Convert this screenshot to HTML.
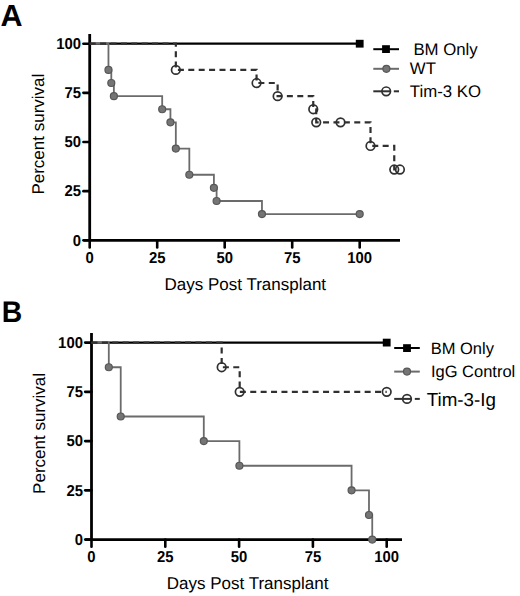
<!DOCTYPE html>
<html><head><meta charset="utf-8"><style>
html,body{margin:0;padding:0;background:#fff;width:520px;height:596px;overflow:hidden}
svg{display:block}
text{font-family:"Liberation Sans",sans-serif;fill:#000;text-rendering:geometricPrecision}
.tk{font-size:15.8px;font-weight:bold}
.lb{font-size:16.5px}
.ax{font-size:17px}
.la{font-size:16.8px}
.lt{font-size:18.8px}
.pn{font-size:30px;font-weight:bold}
</style></head><body>
<svg width="520" height="596" viewBox="0 0 520 596">
<rect width="520" height="596" fill="#fff"/>
<line x1="89.7" y1="34" x2="89.7" y2="240.3" stroke="#000" stroke-width="2.8"/>
<line x1="83.4" y1="240.3" x2="400" y2="240.3" stroke="#000" stroke-width="2.8"/>
<line x1="83.4" y1="240.3" x2="87.7" y2="240.3" stroke="#000" stroke-width="2.6" stroke-linecap="round"/>
<line x1="83.4" y1="191.15" x2="89.7" y2="191.15" stroke="#000" stroke-width="2.6" stroke-linecap="round"/>
<line x1="83.4" y1="142" x2="89.7" y2="142" stroke="#000" stroke-width="2.6" stroke-linecap="round"/>
<line x1="83.4" y1="92.85" x2="89.7" y2="92.85" stroke="#000" stroke-width="2.6" stroke-linecap="round"/>
<line x1="83.4" y1="43.7" x2="89.7" y2="43.7" stroke="#000" stroke-width="2.6" stroke-linecap="round"/>
<line x1="89.7" y1="240.3" x2="89.7" y2="247.5" stroke="#000" stroke-width="2.6" stroke-linecap="round"/>
<line x1="157.2" y1="240.3" x2="157.2" y2="247.5" stroke="#000" stroke-width="2.6" stroke-linecap="round"/>
<line x1="224.7" y1="240.3" x2="224.7" y2="247.5" stroke="#000" stroke-width="2.6" stroke-linecap="round"/>
<line x1="292.2" y1="240.3" x2="292.2" y2="247.5" stroke="#000" stroke-width="2.6" stroke-linecap="round"/>
<line x1="359.7" y1="240.3" x2="359.7" y2="247.5" stroke="#000" stroke-width="2.6" stroke-linecap="round"/>
<text transform="translate(81.1,245.5) scale(0.94,1)" class="tk" text-anchor="end">0</text>
<text transform="translate(81.1,196.35) scale(0.94,1)" class="tk" text-anchor="end">25</text>
<text transform="translate(81.1,147.2) scale(0.94,1)" class="tk" text-anchor="end">50</text>
<text transform="translate(81.1,98.05) scale(0.94,1)" class="tk" text-anchor="end">75</text>
<text transform="translate(81.1,48.9) scale(0.94,1)" class="tk" text-anchor="end">100</text>
<text transform="translate(89.7,262.9) scale(0.94,1)" class="tk" text-anchor="middle">0</text>
<text transform="translate(157.2,262.9) scale(0.94,1)" class="tk" text-anchor="middle">25</text>
<text transform="translate(224.7,262.9) scale(0.94,1)" class="tk" text-anchor="middle">50</text>
<text transform="translate(292.2,262.9) scale(0.94,1)" class="tk" text-anchor="middle">75</text>
<text transform="translate(359.7,262.9) scale(0.94,1)" class="tk" text-anchor="middle">100</text>
<line x1="89.7" y1="43.7" x2="359.7" y2="43.7" stroke="#000" stroke-width="2.2"/>
<path d="M89.7,43.7 H108.47 V69.91 H111.3 V83.02 H113.87 V96.13 H162.19 V109.23 H170.43 V122.34 H175.83 V148.55 H189.33 V174.77 H213.9 V187.87 H216.6 V200.98 H261.96 V214.09 H359.7" fill="none" stroke="#6b6b6b" stroke-width="1.8"/>
<path d="M89.7,43.7 H175.83 V69.91 H256.56 V83.02 H277.62 V96.13 H313.26 V109.23 H316.23 V122.34 H340.53 H370.5 V145.93 H394.26 V169.52 H399.93" fill="none" stroke="#303030" stroke-width="2.2" stroke-dasharray="6 4.4"/>
<circle cx="108.47" cy="69.91" r="3.5" fill="#757575" stroke="#575757" stroke-width="1.2"/>
<circle cx="111.3" cy="83.02" r="3.5" fill="#757575" stroke="#575757" stroke-width="1.2"/>
<circle cx="113.87" cy="96.13" r="3.5" fill="#757575" stroke="#575757" stroke-width="1.2"/>
<circle cx="162.19" cy="109.23" r="3.5" fill="#757575" stroke="#575757" stroke-width="1.2"/>
<circle cx="170.43" cy="122.34" r="3.5" fill="#757575" stroke="#575757" stroke-width="1.2"/>
<circle cx="175.83" cy="148.55" r="3.5" fill="#757575" stroke="#575757" stroke-width="1.2"/>
<circle cx="189.33" cy="174.77" r="3.5" fill="#757575" stroke="#575757" stroke-width="1.2"/>
<circle cx="213.9" cy="187.87" r="3.5" fill="#757575" stroke="#575757" stroke-width="1.2"/>
<circle cx="216.6" cy="200.98" r="3.5" fill="#757575" stroke="#575757" stroke-width="1.2"/>
<circle cx="261.96" cy="214.09" r="3.5" fill="#757575" stroke="#575757" stroke-width="1.2"/>
<circle cx="359.7" cy="214.09" r="3.5" fill="#757575" stroke="#575757" stroke-width="1.2"/>
<circle cx="175.83" cy="69.91" r="4.3" fill="none" stroke="#303030" stroke-width="1.7"/>
<circle cx="256.56" cy="83.02" r="4.3" fill="none" stroke="#303030" stroke-width="1.7"/>
<circle cx="277.62" cy="96.13" r="4.3" fill="none" stroke="#303030" stroke-width="1.7"/>
<circle cx="313.26" cy="109.23" r="4.3" fill="none" stroke="#303030" stroke-width="1.7"/>
<circle cx="316.23" cy="122.34" r="4.3" fill="none" stroke="#303030" stroke-width="1.7"/>
<circle cx="340.53" cy="122.34" r="4.3" fill="none" stroke="#303030" stroke-width="1.7"/>
<circle cx="370.5" cy="145.93" r="4.3" fill="none" stroke="#303030" stroke-width="1.7"/>
<circle cx="394.26" cy="169.52" r="4.3" fill="none" stroke="#303030" stroke-width="1.7"/>
<circle cx="399.93" cy="169.52" r="4.3" fill="none" stroke="#303030" stroke-width="1.7"/>
<rect x="355.8" y="39.8" width="7.8" height="7.8" fill="#000"/>
<line x1="373.3" y1="49.2" x2="399" y2="49.2" stroke="#000" stroke-width="2"/>
<rect x="382.1" y="45.2" width="7.8" height="7.8" fill="#000"/>
<line x1="373.3" y1="68.8" x2="399" y2="68.8" stroke="#6b6b6b" stroke-width="2"/>
<circle cx="386.4" cy="68.8" r="3.5" fill="#757575" stroke="#575757" stroke-width="1.2"/>
<line x1="373.3" y1="91.3" x2="391" y2="91.3" stroke="#303030" stroke-width="2"/>
<line x1="393.8" y1="91.3" x2="399" y2="91.3" stroke="#303030" stroke-width="2"/>
<circle cx="386.2" cy="91.3" r="4.3" fill="none" stroke="#303030" stroke-width="1.7"/>
<text x="413.4" y="54.7" class="lb la">BM Only</text>
<text x="409.8" y="74.2" class="lb la">WT</text>
<text x="409.8" y="96.9" class="lb la">Tim-3 KO</text>
<text x="164.5" y="289.9" class="lb ax">Days Post Transplant</text>
<text transform="translate(44.2,194.6) rotate(-90)" class="lb ax">Percent survival</text>
<text x="0.6" y="25.8" class="pn" style="font-size:30.5px">A</text>
<line x1="91.5" y1="333" x2="91.5" y2="539.6" stroke="#000" stroke-width="2.8"/>
<line x1="85.2" y1="539.6" x2="402" y2="539.6" stroke="#000" stroke-width="2.8"/>
<line x1="85.2" y1="539.6" x2="89.5" y2="539.6" stroke="#000" stroke-width="2.6" stroke-linecap="round"/>
<line x1="85.2" y1="490.35" x2="91.5" y2="490.35" stroke="#000" stroke-width="2.6" stroke-linecap="round"/>
<line x1="85.2" y1="441.1" x2="91.5" y2="441.1" stroke="#000" stroke-width="2.6" stroke-linecap="round"/>
<line x1="85.2" y1="391.85" x2="91.5" y2="391.85" stroke="#000" stroke-width="2.6" stroke-linecap="round"/>
<line x1="85.2" y1="342.6" x2="91.5" y2="342.6" stroke="#000" stroke-width="2.6" stroke-linecap="round"/>
<line x1="91.5" y1="539.6" x2="91.5" y2="546.8" stroke="#000" stroke-width="2.6" stroke-linecap="round"/>
<line x1="165.3" y1="539.6" x2="165.3" y2="546.8" stroke="#000" stroke-width="2.6" stroke-linecap="round"/>
<line x1="239.1" y1="539.6" x2="239.1" y2="546.8" stroke="#000" stroke-width="2.6" stroke-linecap="round"/>
<line x1="312.9" y1="539.6" x2="312.9" y2="546.8" stroke="#000" stroke-width="2.6" stroke-linecap="round"/>
<line x1="386.7" y1="539.6" x2="386.7" y2="546.8" stroke="#000" stroke-width="2.6" stroke-linecap="round"/>
<text transform="translate(82.9,544.8) scale(0.94,1)" class="tk" text-anchor="end">0</text>
<text transform="translate(82.9,495.55) scale(0.94,1)" class="tk" text-anchor="end">25</text>
<text transform="translate(82.9,446.3) scale(0.94,1)" class="tk" text-anchor="end">50</text>
<text transform="translate(82.9,397.05) scale(0.94,1)" class="tk" text-anchor="end">75</text>
<text transform="translate(82.9,347.8) scale(0.94,1)" class="tk" text-anchor="end">100</text>
<text transform="translate(91.5,562.1) scale(0.94,1)" class="tk" text-anchor="middle">0</text>
<text transform="translate(165.3,562.1) scale(0.94,1)" class="tk" text-anchor="middle">25</text>
<text transform="translate(239.1,562.1) scale(0.94,1)" class="tk" text-anchor="middle">50</text>
<text transform="translate(312.9,562.1) scale(0.94,1)" class="tk" text-anchor="middle">75</text>
<text transform="translate(386.7,562.1) scale(0.94,1)" class="tk" text-anchor="middle">100</text>
<line x1="91.5" y1="342.6" x2="386.7" y2="342.6" stroke="#000" stroke-width="2.2"/>
<path d="M91.5,342.6 H108.8 V367.23 H120.72 V416.48 H203.79 V441.1 H239.4 V465.73 H351.57 V490.35 H368.99 V514.98 H372.24 V539.6" fill="none" stroke="#6b6b6b" stroke-width="1.8"/>
<path d="M91.5,342.6 H221.68 V367.23 H239.69 V391.85 H386.7" fill="none" stroke="#303030" stroke-width="2.2" stroke-dasharray="6 4.4"/>
<circle cx="108.8" cy="367.23" r="3.5" fill="#757575" stroke="#575757" stroke-width="1.2"/>
<circle cx="120.72" cy="416.48" r="3.5" fill="#757575" stroke="#575757" stroke-width="1.2"/>
<circle cx="203.79" cy="441.1" r="3.5" fill="#757575" stroke="#575757" stroke-width="1.2"/>
<circle cx="239.4" cy="465.73" r="3.5" fill="#757575" stroke="#575757" stroke-width="1.2"/>
<circle cx="351.57" cy="490.35" r="3.5" fill="#757575" stroke="#575757" stroke-width="1.2"/>
<circle cx="368.99" cy="514.98" r="3.5" fill="#757575" stroke="#575757" stroke-width="1.2"/>
<circle cx="372.24" cy="539.6" r="3.5" fill="#757575" stroke="#575757" stroke-width="1.2"/>
<circle cx="221.68" cy="367.23" r="4.3" fill="none" stroke="#303030" stroke-width="1.7"/>
<circle cx="239.69" cy="391.85" r="4.3" fill="none" stroke="#303030" stroke-width="1.7"/>
<circle cx="386.7" cy="391.85" r="4.3" fill="none" stroke="#303030" stroke-width="1.7"/>
<rect x="382.8" y="338.7" width="7.8" height="7.8" fill="#000"/>
<line x1="394.2" y1="348" x2="419.8" y2="348" stroke="#000" stroke-width="2"/>
<rect x="403.1" y="344.2" width="7.8" height="7.8" fill="#000"/>
<line x1="394.2" y1="371.6" x2="419.8" y2="371.6" stroke="#6b6b6b" stroke-width="2"/>
<circle cx="407" cy="371.6" r="3.5" fill="#757575" stroke="#575757" stroke-width="1.2"/>
<line x1="394.2" y1="398.9" x2="412" y2="398.9" stroke="#303030" stroke-width="2"/>
<line x1="414.8" y1="398.9" x2="419.8" y2="398.9" stroke="#303030" stroke-width="2"/>
<circle cx="407" cy="398.9" r="4.3" fill="none" stroke="#303030" stroke-width="1.7"/>
<text x="430.7" y="354.2" class="lb">BM Only</text>
<text x="430.9" y="377.3" class="lb">IgG Control</text>
<text x="426.7" y="405.7" class="lb lt">Tim-3-Ig</text>
<text x="166.8" y="589.1" class="lb ax">Days Post Transplant</text>
<text transform="translate(45.1,493.9) rotate(-90)" class="lb ax">Percent survival</text>
<text transform="translate(1.85,322.2) scale(0.95,1)" class="pn" style="font-size:29.8px">B</text>
</svg>
</body></html>
